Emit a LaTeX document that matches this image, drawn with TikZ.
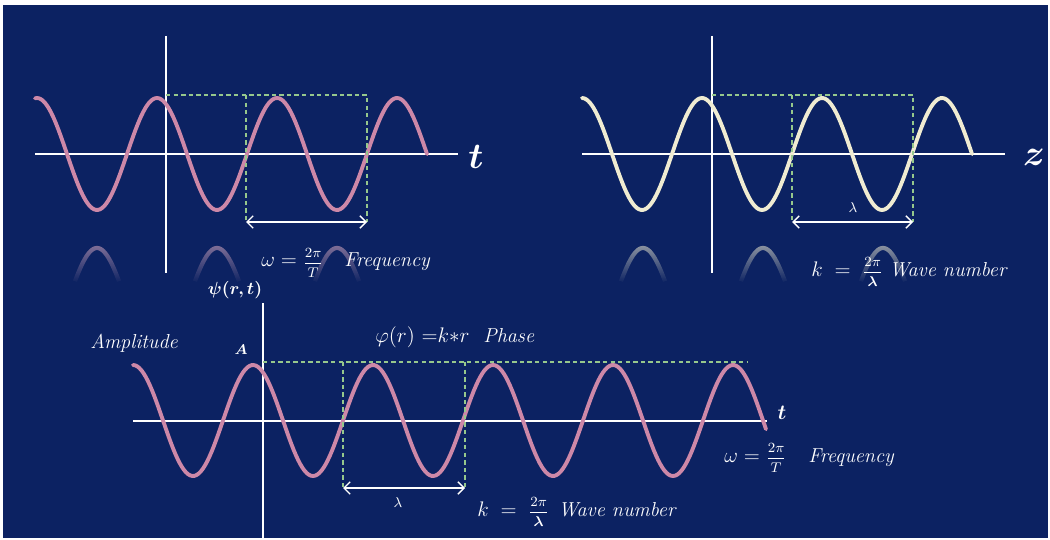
\documentclass[tikz,border=0pt]{standalone}
\usepackage{amsmath,bm}
\usetikzlibrary{arrows.meta,fadings}

\definecolor{navy}{RGB}{12,34,98}
\definecolor{wavepink}{RGB}{205,136,168}
\definecolor{wavecream}{RGB}{240,236,210}
\definecolor{dashgreen}{RGB}{150,200,140}

\newcommand{\wfrac}[2]{\mbox{\fontsize{8.5}{10}\selectfont$\displaystyle\frac{#1}{#2}$}}

\tikzfading[name=reflfade, top color=transparent!45, bottom color=transparent!100]

\begin{document}
\begin{tikzpicture}[x=0.02cm,y=-0.02cm,
  axisline/.style={draw=white, line width=0.8pt},
  wave/.style={line width=2.2pt, line cap=round},
  refl/.style={line width=2.4pt, path fading=reflfade},
  guide/.style={draw=dashgreen, line width=0.6pt, dash pattern=on 2.5pt off 1.8pt},
  spanarrow/.style={draw=white, line width=0.8pt, {Straight Barb[length=3.5pt,width=7pt]}-{Straight Barb[length=3.5pt,width=7pt]}},
  lbl/.style={text=white, inner sep=0pt, font=\fontsize{11.5}{14}\selectfont\itshape},
  mathlbl/.style={text=white, inner sep=0pt, font=\fontsize{12}{14}\selectfont},
  axislbl/.style={text=white, inner sep=0pt, font=\fontsize{20}{24}\selectfont},
  small/.style={text=white, inner sep=0pt, font=\fontsize{8}{10}\selectfont}
]
\fill[white] (0,0) rectangle (1050,540);
\fill[navy] (3,5) rectangle (1048,538);
\useasboundingbox (0,0) rectangle (1050,540);

% ===== Top-left panel (time) =====
\coordinate (tlxa) at (35,154);
\coordinate (tlxb) at (458,154);
\coordinate (tlya) at (166,36);
\coordinate (tlyb) at (166,273);
\draw[axisline] (tlxa) -- (tlxb);
\draw[axisline] (tlya) -- (tlyb);
\draw[wave, wavepink] plot[domain=35:427, samples=200] (\x,{154-56*cos(3*(\x-37))});
\foreach \c in {97,217,337}
  \draw[refl, wavepink!70!white] plot[domain=-22:22, samples=40] ({\c+\x},{248+56*(1-cos(3*\x))});
\coordinate (tlg0) at (166,95);
\coordinate (tlg1) at (246,95);
\coordinate (tlg2) at (367,95);
\coordinate (tlg1b) at (246,222);
\coordinate (tlg2b) at (367,222);
\draw[guide] (tlg0) -- (tlg2) -- (tlg2b);
\draw[guide] (tlg1) -- (tlg1b);
\draw[spanarrow] (tlg1b) -- (tlg2b);
\node[axislbl] (tlt) at (476,157) {$\bm{t}$};
\node[mathlbl, anchor=base west] (tlw) at (261,267) {$\omega=\wfrac{2\pi}{T}$};
\node[lbl, anchor=base west] (tlf) at (344,267) {Frequency};

% ===== Top-right panel (space) =====
\coordinate (trxa) at (582,154);
\coordinate (trxb) at (1005,154);
\coordinate (trya) at (712,36);
\coordinate (tryb) at (712,273);
\draw[axisline] (trxa) -- (trxb);
\draw[axisline] (trya) -- (tryb);
\draw[wave, wavecream] plot[domain=582:972, samples=200] (\x,{154-56*cos(3*(\x-582))});
\foreach \c in {643,763,883}
  \draw[refl, wavecream] plot[domain=-22:22, samples=40] ({\c+\x},{248+56*(1-cos(3*\x))});
\coordinate (trg0) at (712,95);
\coordinate (trg1) at (792,95);
\coordinate (trg2) at (913,95);
\coordinate (trg1b) at (792,222);
\coordinate (trg2b) at (913,222);
\draw[guide] (trg0) -- (trg2) -- (trg2b);
\draw[guide] (trg1) -- (trg1b);
\draw[spanarrow] (trg1b) -- (trg2b);
\node[small] (trl) at (853,208) {$\lambda$};
\node[axislbl] (trz) at (1034,157) {$\bm{z}$};
\node[mathlbl, anchor=base west] (trk) at (811,276) {$k\;=\;\wfrac{2\pi}{\bm{\lambda}}$};
\node[lbl, anchor=base west] (trn) at (889,276) {Wave number};

% ===== Bottom panel =====
\coordinate (bxa) at (133,421);
\coordinate (bxb) at (767,421);
\coordinate (bya) at (263,303);
\coordinate (byb) at (263,540);
\draw[axisline] (bxa) -- (bxb);
\draw[axisline] (bya) -- (byb);
\draw[wave, wavepink] plot[domain=133:766, samples=300] (\x,{420.5-55.5*cos(3*(\x-133))});
\coordinate (bg0) at (263,362);
\coordinate (bg1) at (343,362);
\coordinate (bg2) at (465,362);
\coordinate (bg3) at (748,362);
\coordinate (bg1b) at (343,488);
\coordinate (bg2b) at (465,488);
\draw[guide] (bg0) -- (bg3);
\draw[guide] (bg1) -- (bg1b);
\draw[guide] (bg2) -- (bg2b);
\draw[spanarrow] (bg1b) -- (bg2b);
\node[small] (bl) at (398,503) {$\lambda$};
\node[text=white, inner sep=0pt, font=\fontsize{10}{12}\selectfont] (bpsi) at (235,290) {$\bm{\psi(r,t)}$};
\node[text=white, inner sep=0pt, font=\fontsize{12}{14}\selectfont] (bt) at (782,413) {$\bm{t}$};
\node[text=white, inner sep=0pt, font=\fontsize{8.5}{10}\selectfont] (bA) at (241,350) {$\bm{A}$};
\node[lbl, anchor=base west] (bamp) at (90,348) {Amplitude};
\node[mathlbl, anchor=base west] (bphi) at (375,342) {$\varphi(r)\ {=}k{*}r$};
\node[lbl, anchor=base west] (bphase) at (483,342) {Phase};
\node[mathlbl, anchor=base west] (bk) at (477,516) {$k\;=\;\wfrac{2\pi}{\bm{\lambda}}$};
\node[lbl, anchor=base west] (bn) at (558,516) {Wave number};
\node[mathlbl, anchor=base west] (bw) at (724,462) {$\omega=\wfrac{2\pi}{T}$};
\node[lbl, anchor=base west] (bf) at (808,462) {Frequency};
\end{tikzpicture}
\end{document}
